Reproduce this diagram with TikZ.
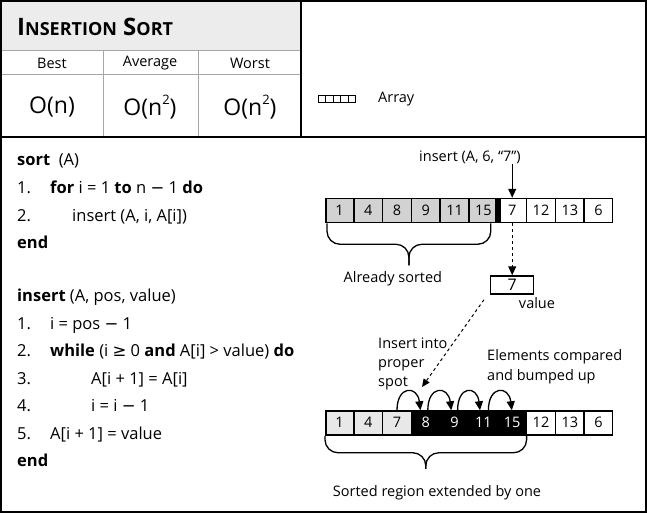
\documentclass[tikz,border=0pt]{standalone}
\usepackage{fontspec}
\setmainfont{Open Sans}
\newfontfamily\symfont{DejaVu Sans}
\usetikzlibrary{shapes,positioning,calc,arrows.meta}
\colorlet{sortedgray}{gray!35}
\colorlet{pagegray}{gray!15}
\colorlet{donegray}{gray!18}
\newcommand{\cw}[1]{\makebox[27.3pt]{\rule[-7.5pt]{0pt}{24pt}#1}}
\newcommand{\stepno}[1]{\makebox[33pt][l]{#1}}
\newcommand{\gesym}{{\symfont ≥}}
\newcommand{\minus}{{\symfont −}}
\newcommand{\sq}{\raisebox{0.5em}{\fontsize{13}{13}\selectfont 2}}

\begin{document}
\begin{tikzpicture}[x=1pt,y=-1pt,
  relation/.style={rectangle split, rectangle split parts=#1, rectangle split horizontal, rectangle split part align=base, draw, line width=1.5pt, inner xsep=0pt, inner ysep=0pt, anchor=west, font=\fontsize{14.5}{14.5}\selectfont},
  code/.style={anchor=west, inner sep=0pt, text height=12pt, text depth=4pt, font=\fontsize{16.5}{16.5}\selectfont},
  label/.style={font=\fontsize{14.5}{16}\selectfont, inner sep=0pt},
  frame/.style={line width=2pt},
  gridline/.style={line width=1pt, gray!70},
  brace/.style={line width=1.3pt, rounded corners=13pt},
  arrow/.style={line width=1.2pt, -{Triangle[length=9pt,width=8pt]}}]

\useasboundingbox (0,0) rectangle (647,513);

% HEADER

\fill[pagegray] (0,0) rectangle (301,51);
\draw[gridline] (0,51) -- (301,51) (0,75) -- (301,75) (103,51) -- (103,137) (198,51) -- (198,137);
\draw[frame] (0,137) -- (647,137) (301,0) -- (301,137);
\draw[frame] (1,1) rectangle (646,512);

\node [anchor=west, inner sep=0pt] (title) at (17,27) {\bfseries\fontsize{24}{24}\selectfont I\fontsize{18}{18}\selectfont NSERTION\fontsize{24}{24}\selectfont\ S\fontsize{18}{18}\selectfont ORT};

\node [label] (best-head) at (52,63) {Best};
\node [label] (average-head) at (150,63) {Average};
\node [label] (worst-head) at (250,63) {Worst};

\node [font=\fontsize{23}{23}\selectfont] (best-cost) at (52,107) {O(n)};
\node [font=\fontsize{23}{23}\selectfont] (average-cost) at (150,107) {O(n\sq)};
\node [font=\fontsize{23}{23}\selectfont] (worst-cost) at (250,107) {O(n\sq)};

\node [relation=5, line width=1.1pt] (legend-array) at (318,99)
{\makebox[6.5pt]{\rule{0pt}{6.5pt}}%
\nodepart{two} \makebox[6.5pt]{\rule{0pt}{6.5pt}}%
\nodepart{three} \makebox[6.5pt]{\rule{0pt}{6.5pt}}%
\nodepart{four} \makebox[6.5pt]{\rule{0pt}{6.5pt}}%
\nodepart{five} \makebox[6.5pt]{\rule{0pt}{6.5pt}}%
};
\node [label, right=22pt of legend-array] (legend-label) {Array};

% PSEUDOCODE

\node [code] (sort-head) at (17,162) {\textbf{sort}\ \ (A)};
\node [code, below=27.5pt of sort-head.west, anchor=west] (sort-1) {\stepno{1.}\textbf{for} i = 1 \textbf{to} n \minus{} 1 \textbf{do}};
\node [code, below=27.5pt of sort-1.west, anchor=west] (sort-2) {\stepno{2.}\hspace{22pt}insert (A, i, A[i])};
\node [code, below=27.5pt of sort-2.west, anchor=west] (sort-end) {\textbf{end}};

\node [code, below=53pt of sort-end.west, anchor=west] (insert-head) {\textbf{insert} (A, pos, value)};
\node [code, below=27.5pt of insert-head.west, anchor=west] (insert-1) {\stepno{1.}i = pos \minus{} 1};
\node [code, below=27.5pt of insert-1.west, anchor=west] (insert-2) {\stepno{2.}\textbf{while} (i \gesym{} 0 \textbf{and} A[i] > value) \textbf{do}};
\node [code, below=27.5pt of insert-2.west, anchor=west] (insert-3) {\stepno{3.}\hspace{41pt}A[i + 1] = A[i]};
\node [code, below=27.5pt of insert-3.west, anchor=west] (insert-4) {\stepno{4.}\hspace{41pt}i = i \minus{} 1};
\node [code, below=27.5pt of insert-4.west, anchor=west] (insert-5) {\stepno{5.}A[i + 1] = value};
\node [code, below=27.5pt of insert-5.west, anchor=west] (insert-end) {\textbf{end}};

% ARRAY BEFORE THE CALL

\node [relation=10, rectangle split part fill={sortedgray,sortedgray,sortedgray,sortedgray,sortedgray,sortedgray,white,white,white,white}] (before) at (325,210.5)
{\cw{1}%
\nodepart{two} \cw{4}%
\nodepart{three} \cw{8}%
\nodepart{four} \cw{9}%
\nodepart{five} \cw{11}%
\nodepart{six} \cw{15}%
\nodepart{seven} \cw{7}%
\nodepart{eight} \cw{12}%
\nodepart{nine} \cw{13}%
\nodepart{ten} \cw{6}%
};
\fill ($(before.six split north)+(-3,0)$) rectangle ($(before.six split south)+(3,0)$);

\coordinate (seven-top) at ($(before.six split north)!.5!(before.seven split north)$);
\coordinate (seven-bottom) at ($(before.six split south)!.5!(before.seven split south)$);

\node [label] (call-label) at (470,157) {insert (A, 6, “7”)};
\draw [arrow] (call-label.south -| seven-top) -- (seven-top);

\node [draw, line width=1.5pt, minimum width=43pt, minimum height=18pt, inner sep=0pt, font=\fontsize{16}{16}\selectfont, below=52pt of seven-bottom] (value-box) {7};
\node [label] (value-label) at (537,303) {value};
\draw [arrow, dashed, line width=1pt] (seven-bottom) -- (value-box.north);

\coordinate (top-brace-left) at ($(before.south west)+(2,0)$);
\coordinate (top-brace-right) at ($(before.six split south)+(-7,0)$);
\coordinate (top-brace-tip) at ($(top-brace-left)!.5!(top-brace-right)+(0,42)$);
\draw [brace] (top-brace-left) |- ($(top-brace-tip)+(0,-21)$) -- (top-brace-tip);
\draw [brace] (top-brace-right) |- ($(top-brace-tip)+(0,-21)$) -- (top-brace-tip);
\node [label, below=6pt of top-brace-tip, xshift=-16pt] (sorted-label) {Already sorted};

% ARRAY AFTER THE CALL

\node [relation=10, rectangle split part fill={donegray,donegray,donegray,black,black,black,black,white,white,white}] (after) at (325,423)
{\cw{1}%
\nodepart{two} \cw{4}%
\nodepart{three} \cw{7}%
\nodepart{four} \cw{\color{white}8}%
\nodepart{five} \cw{\color{white}9}%
\nodepart{six} \cw{\color{white}11}%
\nodepart{seven} \cw{\color{white}15}%
\nodepart{eight} \cw{12}%
\nodepart{nine} \cw{13}%
\nodepart{ten} \cw{6}%
};

\coordinate (spot-tip) at (422,387);
\draw [arrow, dashed, line width=1pt, -{Triangle[length=8pt,width=7pt]}] ($(value-box.south west)+(-6,5)$) -- (spot-tip);

\node [label, align=left, anchor=west, font=\fontsize{14.5}{19}\selectfont] (spot-label) at (378,364) {Insert into\\proper\\spot};
\node [label, align=left, anchor=west, font=\fontsize{14.5}{20}\selectfont] (bumped-label) at (487,367) {Elements compared\\and bumped up};

\draw [arrow, line width=1.3pt] ($(after.two split north)!.5!(after.three split north)$) .. controls +(0,-25) and +(-3,-25) .. ($(after.three split north)+(9,0)$);
\draw [arrow, line width=1.3pt] ($(after.three split north)!.5!(after.four split north)+(2,0)$) .. controls +(0,-25) and +(-3,-25) .. ($(after.four split north)+(11,0)$);
\draw [arrow, line width=1.3pt] ($(after.four split north)!.5!(after.five split north)+(3,0)$) .. controls +(0,-25) and +(-3,-25) .. ($(after.five split north)+(11,0)$);
\draw [arrow, line width=1.3pt] ($(after.five split north)!.5!(after.six split north)+(5,0)$) .. controls +(0,-25) and +(-3,-25) .. ($(after.six split north)+(14,0)$);

\coordinate (low-brace-left) at (after.south west);
\coordinate (low-brace-right) at (after.seven split south);
\coordinate (low-brace-tip) at ($(low-brace-left)!.5!(low-brace-right)+(0,33)$);
\draw [brace] (low-brace-left) |- ($(low-brace-tip)+(0,-16)$) -- (low-brace-tip);
\draw [brace] (low-brace-right) |- ($(low-brace-tip)+(0,-16)$) -- (low-brace-tip);
\node [label] (extended-label) at (437,493) {Sorted region extended by one};

\end{tikzpicture}
\end{document}
